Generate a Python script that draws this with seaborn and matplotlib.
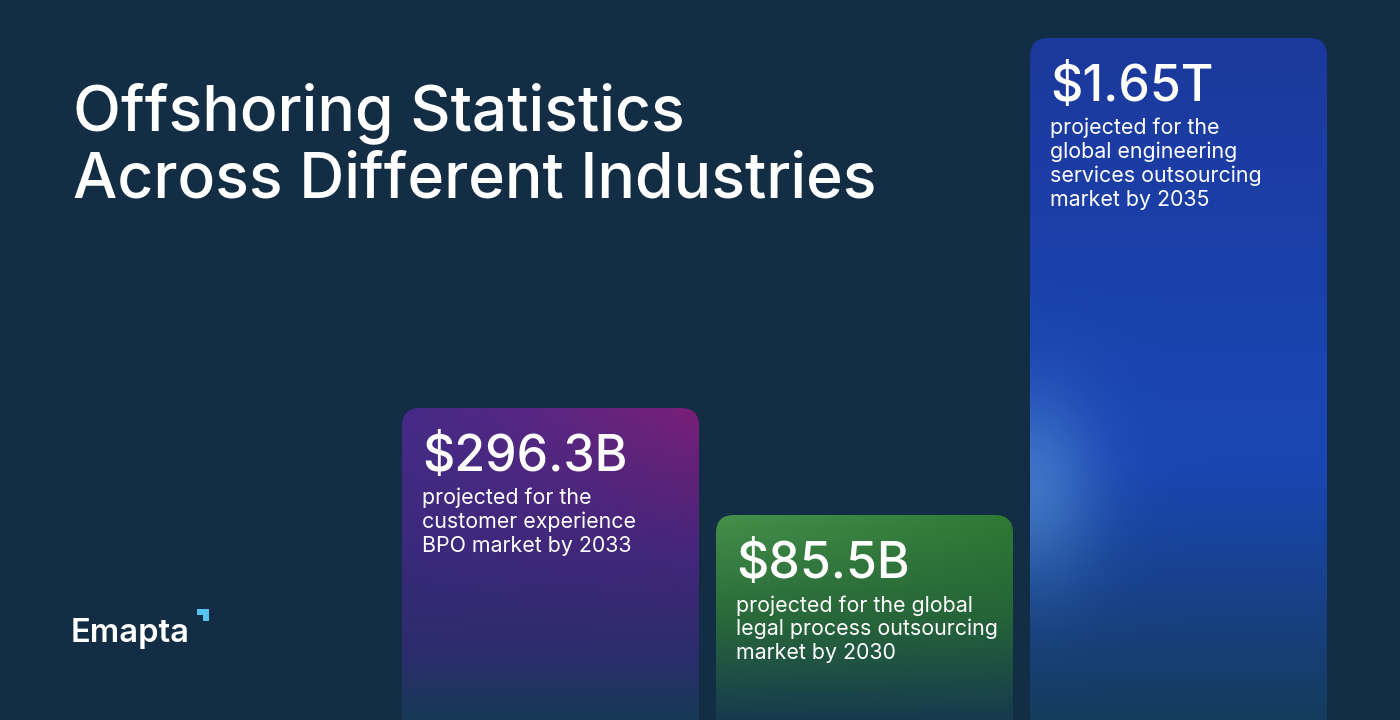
import numpy as np
import pandas as pd
import seaborn as sns
import matplotlib
matplotlib.use("Agg")
import matplotlib.pyplot as plt
from matplotlib.patches import FancyBboxPatch, Polygon
from matplotlib.colors import to_rgb

# ---------------- data ----------------
categories = ["Customer experience BPO", "Legal process outsourcing", "Engineering services outsourcing"]
value_labels = ["$296.3B", "$85.5B", "$1.65T"]
descriptions = [
    "projected for the\ncustomer experience\nBPO market by 2033",
    "projected for the global\nlegal process outsourcing\nmarket by 2030",
    "projected for the\nglobal engineering\nservices outsourcing\nmarket by 2035",
]
bar_height = [312, 205, 682]   # visual bar heights (infographic, not to scale)
title_lines = ["Offshoring Statistics", "Across Different Industries"]
brand = "Emapta"

# ---------------- style ----------------
W, H = 1400, 720
BG = "#132d45"
sns.set_theme(style="white")
plt.rcParams["font.family"] = ["Inter", "DejaVu Sans"]

fig = plt.figure(figsize=(W / 100, H / 100), dpi=100, facecolor=BG)
ax = fig.add_axes([0, 0, 1, 1])
ax.set_facecolor(BG)

df = pd.DataFrame({"category": categories, "height": bar_height})
sns.barplot(data=df, x="category", y="height", ax=ax, width=0.946,
            color="#1a3a9e", saturation=1, errorbar=None)

# pixel <-> data mapping: bar centres at 550.5, 864.5, 1178.5 px
step = 314.0
c0 = 550.5
ax.set_xlim(-c0 / step, (W - c0) / step)
ax.set_ylim(0, H)
ax.axis("off")


def lerp(a, b, t):
    a = np.array(to_rgb(a)); b = np.array(to_rgb(b))
    t = np.asarray(t)[..., None]
    return a * (1 - t) + b * t


def grad_purple(u, v):
    top = lerp("#472b88", "#7b1f78", np.clip(u, 0, 1) ** 1.3)
    mid = lerp("#3a2a7c", "#45267a", u)
    low = np.array(to_rgb("#2b2d6c"))
    bot = np.array(to_rgb("#173a56"))
    t1 = np.clip(v / 0.45, 0, 1)[..., None]
    c = top * (1 - t1) + mid * t1
    t2 = np.clip((v - 0.45) / 0.35, 0, 1)[..., None]
    c = c * (1 - t2) + low * t2
    t3 = np.clip((v - 0.8) / 0.2, 0, 1)[..., None]
    return c * (1 - t3) + bot * t3


def grad_green(u, v):
    top = lerp("#45904a", "#2e7a34", u)
    mid = lerp("#2a6a3a", "#256338", u)
    bot = np.array(to_rgb("#163a4e"))
    t1 = np.clip(v / 0.5, 0, 1)[..., None]
    c = top * (1 - t1) + mid * t1
    t2 = np.clip((v - 0.5) / 0.5, 0, 1)[..., None]
    return c * (1 - t2) + bot * t2


def grad_blue(u, v):
    top = np.array(to_rgb("#1c399c"))
    mid = np.array(to_rgb("#1a46b3"))
    bot = np.array(to_rgb("#153c5c"))
    t1 = np.clip(v / 0.55, 0, 1)[..., None]
    c = top * (1 - t1) + mid * t1
    t2 = np.clip((v - 0.62) / 0.38, 0, 1)[..., None] ** 1.1
    c = c * (1 - t2) + bot * t2
    glow = np.exp(-((u / 0.22) ** 2) - ((v - 0.66) / 0.14) ** 2)[..., None] * 0.55
    gcol = np.array(to_rgb("#5a9ad8"))
    return c * (1 - glow) + gcol * glow


grads = [grad_purple, grad_green, grad_blue]
radius_px = 18

for i, p in enumerate(ax.patches[:3]):
    x0, w = p.get_x(), p.get_width()
    h = p.get_height()
    p.set_visible(False)
    rr = radius_px / step
    box = FancyBboxPatch((x0, -40), w, h + 40,
                         boxstyle=f"round,pad=0,rounding_size={rr}",
                         mutation_aspect=step, facecolor="none",
                         edgecolor="none", transform=ax.transData)
    ax.add_patch(box)
    ny, nx = 300, 150
    u = np.linspace(0, 1, nx)[None, :].repeat(ny, 0)
    v = np.linspace(0, 1, ny)[:, None].repeat(nx, 1)
    img = np.clip(grads[i](u, v), 0, 1)
    im = ax.imshow(img, extent=[x0, x0 + w, 0, h], origin="upper",
                   aspect="auto", interpolation="bicubic", zorder=2)
    im.set_clip_path(box)

    # texts anchored at bar's left edge
    left_px = (x0 + c0 / step) * step + 20
    top_px = H - h
    fig.text(left_px / W, 1 - (top_px + 63) / H, value_labels[i],
             color="white", fontsize=36, fontweight="medium",
             ha="left", va="baseline", zorder=5)
    fig.text(left_px / W, 1 - (top_px + 80) / H, descriptions[i],
             color="white", fontsize=15.4, ha="left", va="top",
             linespacing=1.21, zorder=5)

ax.set_xlim(-c0 / step, (W - c0) / step)
ax.set_ylim(0, H)

# title
fig.text(73 / W, 1 - 130 / H, title_lines[0], color="white", fontsize=45,
         fontweight="medium", ha="left", va="baseline")
fig.text(73 / W, 1 - 197 / H, title_lines[1], color="white", fontsize=45,
         fontweight="medium", ha="left", va="baseline")

# brand
fig.text(71 / W, 1 - 642 / H, brand, color="white", fontsize=23.5,
         fontweight="semibold", ha="left", va="baseline")
pts = np.array([[197, 609], [209, 609], [209, 621], [203, 621], [203, 615], [197, 615]], float)
pts[:, 0] /= W
pts[:, 1] = 1 - pts[:, 1] / H
fig.patches.append(Polygon(pts, closed=True, facecolor="#55c3ee", edgecolor="none",
                           transform=fig.transFigure, figure=fig))

fig.savefig("out.png", dpi=100, facecolor=BG)
